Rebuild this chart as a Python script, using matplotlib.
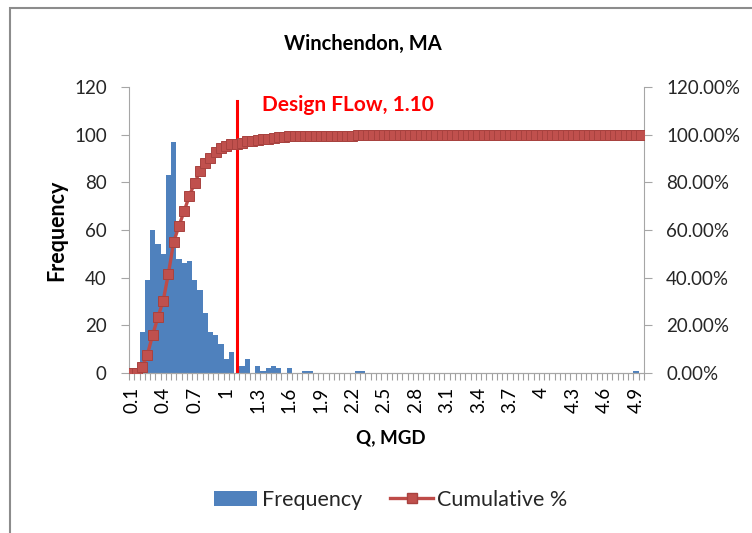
import matplotlib.pyplot as plt
import numpy as np
from matplotlib.lines import Line2D
from matplotlib.patches import Patch, Rectangle
from matplotlib.ticker import FuncFormatter

plt.rcParams["font.family"] = ["Lato", "DejaVu Sans"]

# histogram bins 0.10 ... 4.90 (step 0.05) + "More"
frequency = [
    0, 0, 17, 39, 60, 54, 50, 83, 97, 48,      # 0.10 - 0.55
    46, 47, 39, 35, 25, 17, 16, 12, 6, 9,      # 0.60 - 1.05
    0, 3, 6, 0, 3, 1, 2, 3, 2, 0,              # 1.10 - 1.55
    2, 0, 0, 1, 1, 0, 0, 0, 0, 0,              # 1.60 - 2.05
    0, 0, 0, 1, 1, 0, 0, 0, 0, 0,              # 2.10 - 2.55
    0, 0, 0, 0, 0, 0, 0, 0, 0, 0,              # 2.60 - 3.05
    0, 0, 0, 0, 0, 0, 0, 0, 0, 0,              # 3.10 - 3.55
    0, 0, 0, 0, 0, 0, 0, 0, 0, 0,              # 3.60 - 4.05
    0, 0, 0, 0, 0, 0, 0, 0, 0, 0,              # 4.10 - 4.55
    0, 0, 0, 0, 0, 0, 1, 0,                    # 4.60 - 4.90, More
]
tick_labels = ["0.1", "0.4", "0.7", "1", "1.3", "1.6", "1.9", "2.2", "2.5",
               "2.8", "3.1", "3.4", "3.7", "4", "4.3", "4.6", "4.9"]
label_every = 6
design_flow_idx = 20  # category 1.10
design_flow_text = "Design FLow, 1.10"

freq = np.array(frequency, dtype=float)
cum_pct = np.cumsum(freq) / freq.sum()
x = np.arange(len(freq))

fig = plt.figure(figsize=(7.52, 5.33), dpi=100)
ax = fig.add_axes([129 / 752, 1 - 373 / 533, (644 - 129) / 752, (373 - 87) / 533])
ax2 = ax.twinx()

ax.bar(x, freq, width=1.0, color="#4F81BD", linewidth=0, zorder=2)
ax2.plot(x, cum_pct, color="#BE4B48", linewidth=2.4, marker="s", markersize=7.2,
         markerfacecolor="#C0504D", markeredgecolor="#A8423F", markeredgewidth=0.7, zorder=3)

ax.set_xlim(-0.5, len(freq) - 0.5)
ax.set_ylim(0, 120)
ax2.set_ylim(0, 1.2)
ax.set_yticks(np.arange(0, 121, 20))
ax2.set_yticks(np.arange(0, 1.21, 0.2))
ax2.yaxis.set_major_formatter(FuncFormatter(lambda v, p: f"{v * 100:.2f}%"))

# tick marks at category boundaries, labels every 6th category
ax.set_xticks(np.arange(len(freq) + 1) - 0.5)
ax.set_xticklabels([])
ax.set_xticks(np.arange(0, len(freq), label_every)[:len(tick_labels)], minor=True)
ax.set_xticklabels(tick_labels, minor=True, rotation=90, fontsize=13.5)
ax.tick_params(axis="x", which="major", length=5, color="#A0A0A0", width=0.8)
ax.tick_params(axis="x", which="minor", length=0, pad=10)

gray = "#A6A6A6"
for a in (ax, ax2):
    a.spines["top"].set_visible(False)
    for s in ("left", "right", "bottom"):
        a.spines[s].set_color(gray)
    a.tick_params(axis="y", length=6, color=gray, labelsize=13.5, labelcolor="#262626", pad=10)
ax2.spines["left"].set_visible(False)
ax.spines["right"].set_visible(False)
ax.tick_params(axis="x", labelcolor="#262626")

fig.text(391 / 752, 1 - 438 / 533, "Q, MGD", ha="center", va="center",
         fontsize=13.5, fontweight="bold")
fig.text(57 / 752, 1 - 230 / 533, "Frequency", ha="center", va="center", rotation=90,
         fontsize=15.5, fontweight="bold")

ax.axvline(design_flow_idx, ymin=0, ymax=114 / 120, color="#FF0000", linewidth=2.2, zorder=4)
ax.text(design_flow_idx + 4.8, 112.5, design_flow_text, color="#FF0000", fontsize=15,
        fontweight="bold", ha="left", va="center")

fig.text(0.483, 1 - 44 / 533, "Winchendon, MA", ha="center", va="center",
         fontsize=14.5, fontweight="bold")

handles = [
    Patch(facecolor="#4F81BD", edgecolor="none"),
    Line2D([0], [0], color="#BE4B48", linewidth=2.4, marker="s", markersize=7.2,
           markerfacecolor="#C0504D", markeredgecolor="#A8423F"),
]
fig.legend(handles, ["Frequency", "Cumulative %"], loc="center", ncol=2,
           bbox_to_anchor=(391 / 752, 1 - 500 / 533), frameon=False, fontsize=15.5,
           handlelength=2.0, handletextpad=0.2, columnspacing=1.3, labelcolor="#262626")

fig.patches.append(Rectangle((10 / 752, -0.1), 1.2, 1.1 - 8 / 533, transform=fig.transFigure,
                             fill=False, edgecolor="#8C8C8C", linewidth=1.5))

fig.savefig("out.png", dpi=100)
